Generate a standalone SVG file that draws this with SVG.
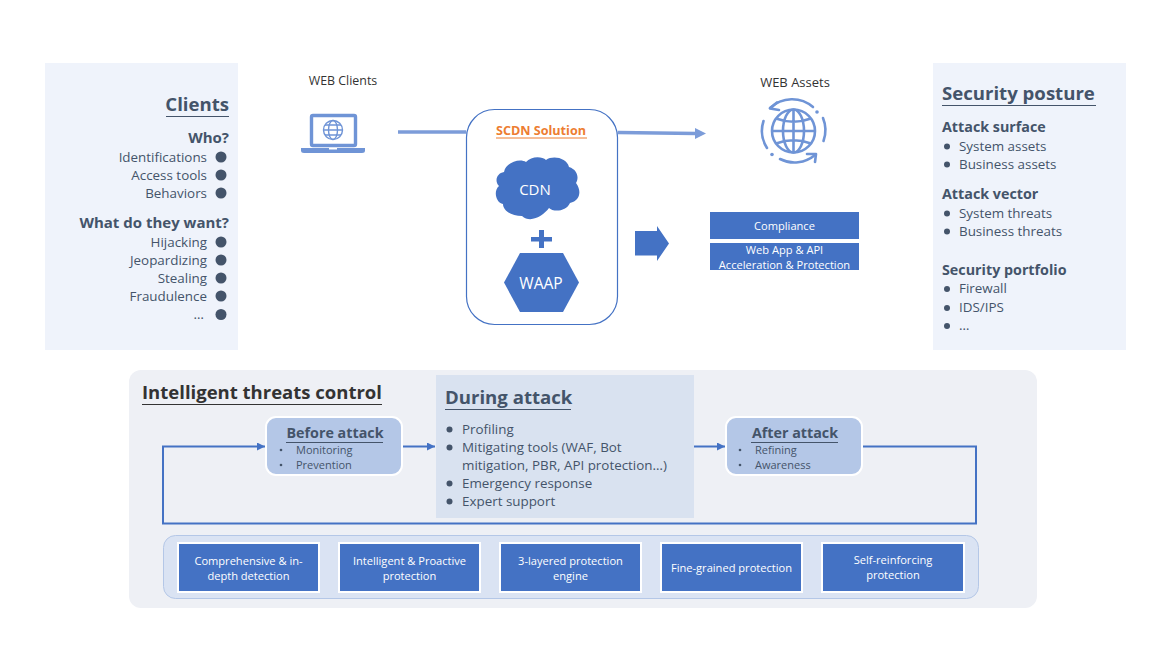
<svg xmlns="http://www.w3.org/2000/svg" width="1170" height="653" viewBox="0 0 1170 653">
<style>
text{font-family:"Open Sans","Noto Sans","Liberation Sans",sans-serif}
.b{font-size:13.4px;fill:#44546a}
.h{font-size:14.3px;font-weight:700;fill:#44546a}
.hc{font-size:15px;font-weight:700;fill:#44546a}
.t{font-size:18.6px;font-weight:700;fill:#44546a}
.s{font-size:11px;fill:#44546a}
.w{font-size:11.1px;fill:#fff;text-anchor:middle}
.r{text-anchor:end}
.d{fill:#44546a}
.u{stroke:#44546a;stroke-width:1.2;fill:none}
.ic{fill:none;stroke:#6f94d6}
.box{fill:#4472c4;stroke:#fff;stroke-width:2}
.flow{fill:none;stroke:#4472c4;stroke-width:2}
.top{fill:none;stroke:#7c9cd9;stroke-width:3.5}
.step{fill:#b4c7e7;stroke:#fff;stroke-width:2}
</style>
<defs>
<marker id="a" markerUnits="userSpaceOnUse" markerWidth="9" markerHeight="9" refX="8" refY="4" orient="auto"><path d="M0 0L8 4L0 8z" fill="#4472c4"/></marker>
</defs>
<g id="clients">
<rect x="45" y="63" width="193" height="287" fill="#eff3fb"/>
<text class="t r" x="229" y="111">Clients</text><path class="u" d="M166 116.500H229"/>
<text class="hc r" x="229" y="143">Who?</text>
<text class="b r" x="207" y="162">Identifications</text><circle class="d" cx="221" cy="157" r="5.500"/>
<text class="b r" x="207" y="180">Access tools</text><circle class="d" cx="221" cy="175" r="5.500"/>
<text class="b r" x="207" y="198">Behaviors</text><circle class="d" cx="221" cy="193" r="5.500"/>
<text class="hc r" x="229" y="228">What do they want?</text>
<text class="b r" x="207" y="247">Hijacking</text><circle class="d" cx="221" cy="242" r="5.500"/>
<text class="b r" x="207" y="265">Jeopardizing</text><circle class="d" cx="221" cy="260" r="5.500"/>
<text class="b r" x="207" y="283">Stealing</text><circle class="d" cx="221" cy="278" r="5.500"/>
<text class="b r" x="207" y="301">Fraudulence</text><circle class="d" cx="221" cy="296" r="5.500"/>
<text class="b r" x="204" y="319">…</text><circle class="d" cx="221" cy="314.500" r="5.500"/>
</g>
<g id="security-posture">
<rect x="933" y="63" width="193" height="287" fill="#eff3fb"/>
<text class="t" x="942" y="100">Security posture</text><path class="u" d="M942 105.500H1096"/>
<text class="h" x="942" y="132">Attack surface</text>
<circle class="d" cx="947" cy="146.500" r="3"/><text class="b" x="959" y="151">System assets</text>
<circle class="d" cx="947" cy="164.500" r="3"/><text class="b" x="959" y="169">Business assets</text>
<text class="h" x="942" y="199">Attack vector</text>
<circle class="d" cx="947" cy="213.500" r="3"/><text class="b" x="959" y="218">System threats</text>
<circle class="d" cx="947" cy="231.500" r="3"/><text class="b" x="959" y="236">Business threats</text>
<text class="h" x="942" y="275">Security portfolio</text>
<circle class="d" cx="947" cy="289" r="3"/><text class="b" x="959" y="293">Firewall</text>
<circle class="d" cx="947" cy="308" r="3"/><text class="b" x="959" y="312">IDS/IPS</text>
<circle class="d" cx="947" cy="326" r="3"/><text class="b" x="959" y="330">…</text>
</g>
<g id="web-clients">
<text x="343" y="85" font-size="12.4" fill="#333" text-anchor="middle">WEB Clients</text>
<rect class="ic" x="311.500" y="115.500" width="44" height="30" rx="1.500" stroke-width="3.400"/>
<path d="M301 148H365V150.500Q365 153 362 153H304Q301 153 301 150.500Z" fill="#6f94d6"/>
<rect x="329" y="148" width="8" height="1.500" fill="#fff"/>
<g class="ic" stroke-width="1.400"><circle cx="333" cy="130" r="9.500"/><ellipse cx="333" cy="130" rx="4.500" ry="9.500"/><path d="M323.500 130H342.500M325 125H341M325 135H341"/></g>
</g>
<g id="web-assets">
<text x="795" y="87" font-size="13" fill="#333" text-anchor="middle">WEB Assets</text>
<g class="ic" stroke-width="2.600" transform="translate(793.500 131)">
<circle r="21.500"/><ellipse rx="10.500" ry="21.500"/><path d="M0-21.500V21.500M-21.500 0H21.500M-17.500-12.500Q0-6 17.500-12.500M-17.500 12.500Q0 6 17.500 12.500"/>
</g>
<g class="ic" stroke-width="2.600" stroke-linecap="round" stroke-linejoin="round">
<path d="M770 108A32 32 0 0 1 813 107"/><path d="M777 102.500L770 108.500L779 110"/>
<path d="M823 118A32 32 0 0 1 823.500 141"/>
<path d="M763.500 121A32 32 0 0 0 767 148"/>
<path d="M780 159A32 32 0 0 0 815 155"/><path d="M807 154L816 154L815 162"/>
</g>
<circle cx="817" cy="112" r="1.800" fill="#6f94d6"/><circle cx="772" cy="154.500" r="1.800" fill="#6f94d6"/>
</g>
<g id="scdn-solution">
<rect x="466.500" y="109.500" width="151" height="215" rx="28" fill="#fff" stroke="#4472c4" stroke-width="1.200"/>
<text x="541" y="135" font-size="12.600" font-weight="700" fill="#ed7d31" text-anchor="middle">SCDN Solution</text>
<path d="M496 138H587" stroke="#ed7d31" stroke-width="1"/>
</g>
<g id="cdn">
<path d="M504 172C506 162 520 158 526 162C531 156 542 156 546 160C553 155 567 158 569 167C578 170 579 178 576 183C582 191 580 201 570 203C566 212 553 212 549 208C544 215 531 224 522 216C512 216 503 211 503 204C496 203 493 191 499 186C494 181 497 173 504 172Z" fill="#4472c4"/>
<text x="535" y="195" font-size="15" fill="#fff" text-anchor="middle">CDN</text>
</g>
<path id="plus" d="M539 230H544V237H552V241.500H544V248H539V241.500H531V237H539Z" fill="#4472c4"/>
<g id="waap">
<path d="M504 282.500L520 253H563L579 282.500L563 312H520Z" fill="#4472c4"/>
<text x="541" y="289" font-size="15.600" fill="#fff" text-anchor="middle">WAAP</text>
</g>
<g id="compliance"><rect x="710" y="212" width="149" height="27" fill="#4472c4"/><text class="w" x="784.500" y="230">Compliance</text></g>
<g id="acceleration"><rect x="710" y="243" width="149" height="27" fill="#4472c4"/><text class="w" x="784.500" y="254">Web App &amp; API</text><text class="w" x="784.500" y="269">Acceleration &amp; Protection</text></g>
<g id="threats-control">
<rect x="129" y="370" width="908" height="238" rx="12" fill="#eef0f5"/>
<text x="142" y="399" font-size="18.500" font-weight="700" fill="#333">Intelligent threats control</text>
<path d="M142 404.500H382" stroke="#333" stroke-width="1.200"/>
</g>
<g id="during-attack">
<rect x="436" y="375" width="258" height="143" fill="#d9e2f0"/>
<text class="t" x="445" y="404">During attack</text><path class="u" d="M445 409.500H571"/>
<circle class="d" cx="449.500" cy="429.500" r="3"/><text class="b" x="462" y="434">Profiling</text>
<circle class="d" cx="449.500" cy="447.500" r="3"/><text class="b" x="462" y="452">Mitigating tools (WAF, Bot</text>
<text class="b" x="462" y="470">mitigation, PBR, API protection…)</text>
<circle class="d" cx="449.500" cy="483.500" r="3"/><text class="b" x="462" y="488">Emergency response</text>
<circle class="d" cx="449.500" cy="501.500" r="3"/><text class="b" x="462" y="506">Expert support</text>
</g>
<g id="before-attack">
<rect class="step" x="266" y="417" width="136" height="58" rx="10"/>
<text x="335" y="438" font-size="14.300" font-weight="700" fill="#44546a" text-anchor="middle">Before attack</text><path class="u" d="M286 442.500H383"/>
<circle class="d" cx="281" cy="450" r="1.300"/><text class="s" x="296" y="454">Monitoring</text>
<circle class="d" cx="281" cy="465" r="1.300"/><text class="s" x="296" y="469">Prevention</text>
</g>
<g id="after-attack">
<rect class="step" x="726" y="417" width="136" height="58" rx="10"/>
<text x="795" y="438" font-size="14.300" font-weight="700" fill="#44546a" text-anchor="middle">After attack</text><path class="u" d="M751 442.500H838"/>
<circle class="d" cx="740" cy="450" r="1.300"/><text class="s" x="755" y="454">Refining</text>
<circle class="d" cx="740" cy="465" r="1.300"/><text class="s" x="755" y="469">Awareness</text>
</g>
<rect id="protection-band" x="163.500" y="535.500" width="815" height="63" rx="12" fill="#dae3f3" stroke="#b4c7e7"/>
<g id="p1"><rect class="box" x="178" y="543" width="141" height="49"/><text class="w" x="248.500" y="565">Comprehensive &amp; in-</text><text class="w" x="248.500" y="580">depth detection</text></g>
<g id="p2"><rect class="box" x="339" y="543" width="141" height="49"/><text class="w" x="409.500" y="565">Intelligent &amp; Proactive</text><text class="w" x="409.500" y="580">protection</text></g>
<g id="p3"><rect class="box" x="500" y="543" width="141" height="49"/><text class="w" x="570.500" y="565">3-layered protection</text><text class="w" x="570.500" y="580">engine</text></g>
<g id="p4"><rect class="box" x="661" y="543" width="141" height="49"/><text class="w" x="731.500" y="572">Fine-grained protection</text></g>
<g id="p5"><rect class="box" x="822" y="543" width="142" height="49"/><text class="w" x="893" y="564">Self-reinforcing</text><text class="w" x="893" y="579">protection</text></g>
<g id="connectors">
<path class="top" d="M398 132H466"/>
<path class="top" d="M618 132.500L696 133.500"/>
<path d="M695 128L706 133.500L695 139Z" fill="#7c9cd9"/>
<path d="M635 231H657V226L669 243.500L657 261V255.500H635Z" fill="#4472c4"/>
<path class="flow" d="M403 446.500H435" marker-end="url(#a)"/>
<path class="flow" d="M694 446.500H725" marker-end="url(#a)"/>
<path class="flow" d="M863 446.500H976V523.500H163V446.500H265" marker-end="url(#a)"/>
</g>
</svg>
